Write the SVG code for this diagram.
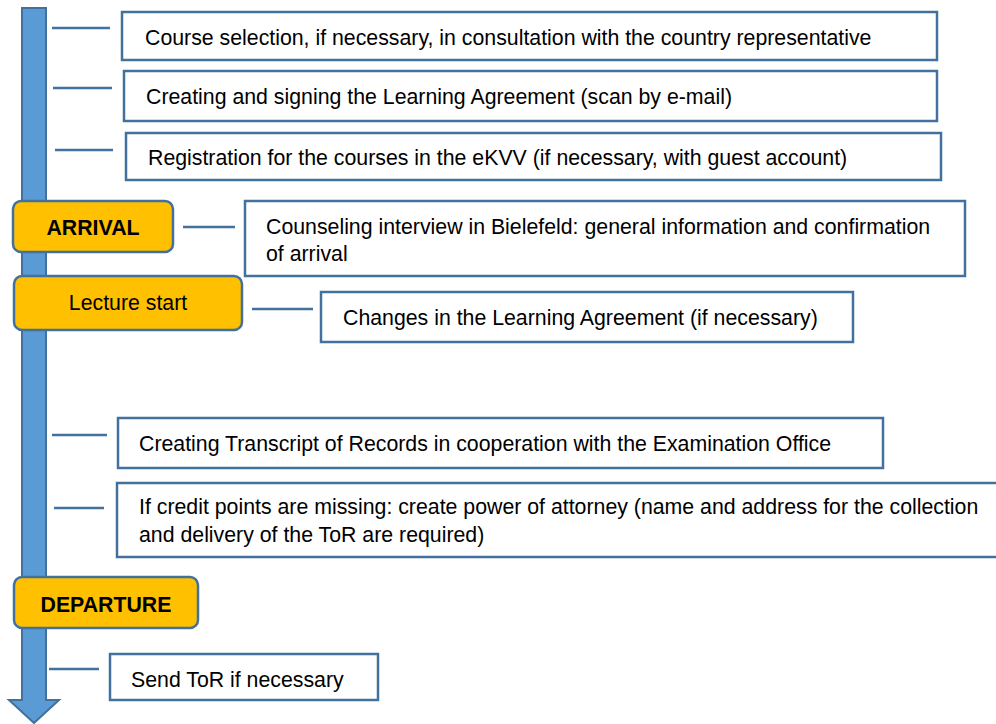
<svg xmlns="http://www.w3.org/2000/svg" width="996" height="724" viewBox="0 0 996 724">
<style>
.box{fill:#fff;stroke:#41719C;stroke-width:2.5}
.ms{fill:#FFC000;stroke:#41719C;stroke-width:2.5}
.t{font-family:"Liberation Sans",Arial,sans-serif;font-size:21.3px;fill:#000}
.b{font-weight:bold;text-anchor:middle}
.c{text-anchor:middle}
.ln{stroke:#41719C;stroke-width:2.5;fill:none}
</style>
<rect width="996" height="724" fill="#fff"/>
<g id="timeline">
<polygon points="22,8 46,8 46,700 59,700 34,723 9,700 22,700" fill="#5B9BD5" stroke="#41719C" stroke-width="2"/>
</g>
<g id="connectors">
<line class="ln" x1="52" y1="28" x2="110" y2="28"/>
<line class="ln" x1="53" y1="88" x2="112" y2="88"/>
<line class="ln" x1="55" y1="150" x2="113" y2="150"/>
<line class="ln" x1="183" y1="227" x2="235" y2="227"/>
<line class="ln" x1="252" y1="309" x2="313" y2="309"/>
<line class="ln" x1="52" y1="435" x2="107" y2="435"/>
<line class="ln" x1="54" y1="508" x2="104" y2="508"/>
<line class="ln" x1="49" y1="669" x2="99" y2="669"/>
</g>
<g id="n1"><rect class="box" x="122" y="12" width="815" height="48"/><text class="t" x="145" y="44.5">Course selection, if necessary, in consultation with the country representative</text></g>
<g id="n2"><rect class="box" x="124" y="71" width="813" height="50"/><text class="t" x="146" y="103.5">Creating and signing the Learning Agreement (scan by e-mail)</text></g>
<g id="n3"><rect class="box" x="126" y="133" width="815" height="47"/><text class="t" x="148" y="164.5">Registration for the courses in the eKVV (if necessary, with guest account)</text></g>
<g id="arrival"><rect class="ms" x="13" y="201" width="160" height="51" rx="8"/><text class="t b" x="93" y="234.5">ARRIVAL</text></g>
<g id="n4"><rect class="box" x="245" y="201" width="720" height="75"/><text class="t" x="266" y="233.5">Counseling interview in Bielefeld: general information and confirmation</text><text class="t" x="266" y="260.5">of arrival</text></g>
<g id="lecture"><rect class="ms" x="14" y="276" width="228" height="54" rx="8"/><text class="t c" x="128" y="309.5">Lecture start</text></g>
<g id="n5"><rect class="box" x="321" y="292" width="532" height="50"/><text class="t" x="343" y="324.5">Changes in the Learning Agreement (if necessary)</text></g>
<g id="n6"><rect class="box" x="118" y="418" width="765" height="50"/><text class="t" x="139" y="450.5">Creating Transcript of Records in cooperation with the Examination Office</text></g>
<g id="n7"><rect class="box" x="117" y="483" width="890" height="74"/><text class="t" x="139" y="513.5">If credit points are missing: create power of attorney (name and address for the collection</text><text class="t" x="139" y="541.5">and delivery of the ToR are required)</text></g>
<g id="departure"><rect class="ms" x="14" y="577" width="184" height="51" rx="8"/><text class="t b" x="106" y="612">DEPARTURE</text></g>
<g id="n8"><rect class="box" x="110" y="654" width="268" height="46"/><text class="t" x="131" y="686.5">Send ToR if necessary</text></g>
</svg>
